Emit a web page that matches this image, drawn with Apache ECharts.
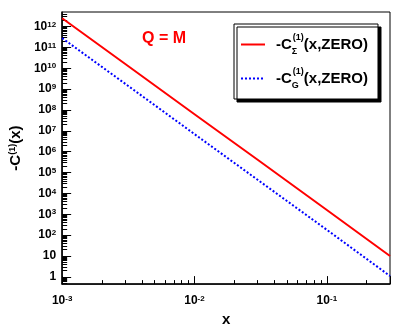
<!DOCTYPE html>
<html>
<head>
<meta charset="utf-8">
<script src="https://cdn.jsdelivr.net/npm/echarts@6/dist/echarts.min.js"></script>
<style>
  html, body { margin: 0; padding: 0; background: #fff; }
  #main { width: 403px; height: 332px; }
</style>
</head>
<body>
<div id="main"></div>
<script>
// values (log-log, straight lines)
var xValues = [0.001, 0.003, 0.01, 0.03, 0.1, 0.3];
var sigmaValues = [2.5e12, 1.6e10, 6.3e7, 4.1e5, 1.6e3, 10];
var gValues = [2.8e11, 1.8e9, 7.0e6, 4.5e4, 180, 1.1];

var xRange = [0.001, 0.3];
var yRange = [0.45, 5e12];

// y decades that carry a label
var yTickValues = [1, 10, 1e2, 1e3, 1e4, 1e5, 1e6, 1e7, 1e8, 1e9, 1e10, 1e11, 1e12];

var FONT = '"Liberation Sans", Arial, sans-serif';

function pairs(xs, ys) {
  var out = [];
  for (var i = 0; i < xs.length; i++) out.push([xs[i], ys[i]]);
  return out;
}

// 2..9 times each decade, inside the axis range
function minorValues(range) {
  var out = [];
  var lo = Math.floor(Math.log10(range[0]));
  var hi = Math.ceil(Math.log10(range[1]));
  for (var n = lo; n <= hi; n++) {
    for (var k = 2; k <= 9; k++) {
      var v = k * Math.pow(10, n);
      if (v > range[0] && v < range[1]) out.push(v);
    }
  }
  return out;
}

// label 10^n with a superscript, 1 and 10 written out
function powLabel(v) {
  var n = Math.log10(v);
  var r = Math.round(n);
  if (Math.abs(n - r) > 1e-6) return '';
  if (r === 0) return '1';
  if (r === 1) return '10';
  return '10{sup|' + r + '}';
}

var labelRich = {
  sup: { fontFamily: FONT, fontWeight: 'bold', fontSize: 8, verticalAlign: 'top', lineHeight: 10, color: '#000' }
};

var chart = echarts.init(document.getElementById('main'), null, { renderer: 'canvas' });

var option = {
  backgroundColor: '#fff',
  animation: false,
  grid: {
    left: 56, right: 13, top: 12, bottom: 40,
    show: true, borderColor: '#000', borderWidth: 1
  },
  graphic: [{
    type: 'text',
    left: 142, top: 31,
    style: { text: 'Q = M', fill: '#ff0000', font: 'bold 16px ' + FONT }
  }],
  legend: {
    orient: 'vertical',
    left: 234, top: 24,
    padding: [9, 10, 9, 6],
    itemGap: 11,
    itemWidth: 24, itemHeight: 14,
    itemStyle: { opacity: 0 },
    backgroundColor: '#fff',
    borderColor: '#000', borderWidth: 1,
    shadowColor: '#000', shadowBlur: 0, shadowOffsetX: 3, shadowOffsetY: 3,
    data: ['sigma', 'g'],
    formatter: function (name) {
      var sub = name === 'sigma' ? 'Σ' : 'G';
      return '{b|-C}{sub|' + sub + '}{sup|(1)}{b|(x,ZERO)}';
    },
    textStyle: {
      padding: [0, 0, 0, 6],
      rich: {
        b: { fontFamily: FONT, fontWeight: 'bold', fontSize: 15, lineHeight: 23, color: '#000' },
        sup: { fontFamily: FONT, fontWeight: 'bold', fontSize: 9, verticalAlign: 'top', lineHeight: 10, color: '#000' },
        sub: { fontFamily: FONT, fontWeight: 'bold', fontSize: 9, verticalAlign: 'bottom', lineHeight: 8, width: 1, color: '#000' }
      }
    }
  },
  xAxis: {
    type: 'log',
    logBase: 10,
    min: xRange[0], max: xRange[1],
    name: 'x',
    nameLocation: 'middle',
    nameGap: 21,
    nameTextStyle: { fontFamily: FONT, fontWeight: 'bold', fontSize: 15, color: '#000' },
    axisLine: { lineStyle: { color: '#000', width: 1.5 } },
    axisTick: { inside: true, length: 8, lineStyle: { color: '#000' } },
    minorTick: { show: true, splitNumber: 9, length: 4, lineStyle: { color: '#000' } },
    splitLine: { show: false },
    axisLabel: {
      formatter: powLabel,
      margin: 11,
      fontFamily: FONT, fontWeight: 'bold', fontSize: 12, color: '#000',
      rich: labelRich
    }
  },
  yAxis: [{
    type: 'log',
    logBase: 10,
    min: yRange[0], max: yRange[1],
    name: '{b|-C}{sup|(1)}{b|(x)}',
    nameLocation: 'middle',
    nameRotate: 90,
    nameGap: 27,
    nameTextStyle: {
      rich: {
        b: { fontFamily: FONT, fontWeight: 'bold', fontSize: 15, color: '#000' },
        sup: { fontFamily: FONT, fontWeight: 'bold', fontSize: 9, verticalAlign: 'top', color: '#000' }
      }
    },
    axisLine: { show: true, lineStyle: { color: '#000', width: 1.5 } },
    axisTick: { inside: true, length: 9, customValues: yTickValues, lineStyle: { color: '#000' } },
    minorTick: { show: false },
    splitLine: { show: false },
    axisLabel: {
      customValues: yTickValues,
      formatter: powLabel,
      margin: 6,
      fontFamily: FONT, fontWeight: 'bold', fontSize: 12, color: '#000',
      rich: labelRich
    }
  }, {
    // second copy of the same scale, only for the 2..9 minor ticks
    type: 'log',
    logBase: 10,
    position: 'left',
    min: yRange[0], max: yRange[1],
    axisLine: { show: false },
    axisTick: { inside: true, length: 5, customValues: minorValues(yRange), lineStyle: { color: '#000' } },
    axisLabel: { show: false },
    splitLine: { show: false }
  }],
  series: [{
    name: 'sigma',
    type: 'line',
    data: pairs(xValues, sigmaValues),
    symbol: 'none',
    lineStyle: { color: '#ff0000', width: 2 },
    itemStyle: { color: '#ff0000' }
  }, {
    name: 'g',
    type: 'line',
    data: pairs(xValues, gValues),
    symbol: 'none',
    lineStyle: { color: '#0000ff', width: 2, type: [2, 2] },
    itemStyle: { color: '#0000ff' }
  }]
};

chart.setOption(option);
</script>
</body>
</html>
